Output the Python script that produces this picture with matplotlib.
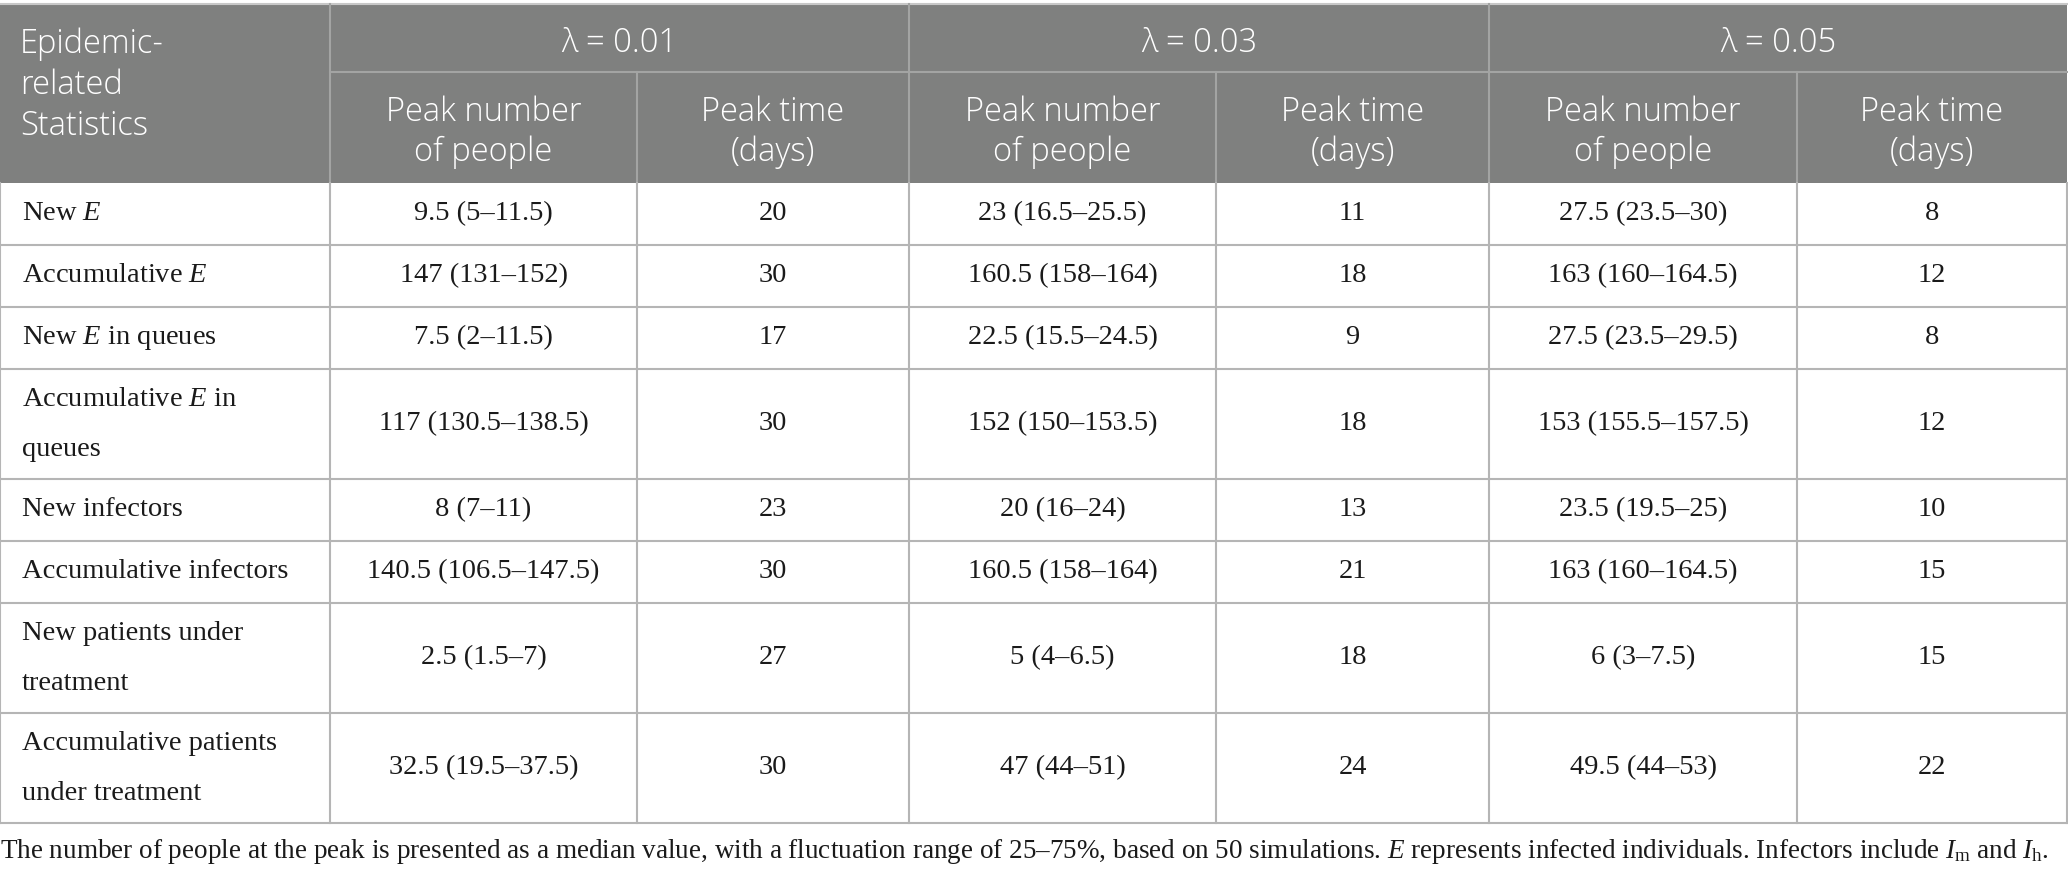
import matplotlib
matplotlib.use('Agg')
import matplotlib.pyplot as plt
from matplotlib.patches import Rectangle

plt.rcParams['mathtext.fontset'] = 'custom'
plt.rcParams['mathtext.rm'] = 'Liberation Serif'
plt.rcParams['mathtext.it'] = 'Liberation Serif:italic'

# table content
row_labels = ["New $E$", "Accumulative $E$", "New $E$ in queues",
              "Accumulative $E$ in\nqueues", "New infectors",
              "Accumulative infectors", "New patients under\ntreatment",
              "Accumulative patients\nunder treatment"]
lambdas = ["λ = 0.01", "λ = 0.03", "λ = 0.05"]
sub_heads = ["Peak number\nof people", "Peak time\n(days)"]

peak_001 = ["9.5 (5–11.5)", "147 (131–152)", "7.5 (2–11.5)", "117 (130.5–138.5)",
            "8 (7–11)", "140.5 (106.5–147.5)", "2.5 (1.5–7)", "32.5 (19.5–37.5)"]
time_001 = [20, 30, 17, 30, 23, 30, 27, 30]
peak_003 = ["23 (16.5–25.5)", "160.5 (158–164)", "22.5 (15.5–24.5)", "152 (150–153.5)",
            "20 (16–24)", "160.5 (158–164)", "5 (4–6.5)", "47 (44–51)"]
time_003 = [11, 18, 9, 18, 13, 21, 18, 24]
peak_005 = ["27.5 (23.5–30)", "163 (160–164.5)", "27.5 (23.5–29.5)", "153 (155.5–157.5)",
            "23.5 (19.5–25)", "163 (160–164.5)", "6 (3–7.5)", "49.5 (44–53)"]
time_005 = [8, 12, 8, 12, 10, 15, 15, 22]

footnote = ("The number of people at the peak is presented as a median value, with a "
            "fluctuation range of 25–75%, based on 50 simulations. $E$ represents infected "
            "individuals. Infectors include $I_\\mathrm{m}$ and $I_\\mathrm{h}$.")

columns = [row_labels, peak_001, time_001, peak_003, time_003, peak_005, time_005]

# layout (pixels)
W, H = 2068, 876
col_edges = [0, 330, 637, 909, 1216, 1489, 1797, 2067]
top, mid, head_bot = 4, 72, 183
single_h, double_h = 62, 110
head_color = '#7f807f'
head_line = '#a3a4a3'
body_line = '#b5b5b5'
sans = 'Open Sans'
serif = 'Liberation Serif'

fig = plt.figure(figsize=(W / 100, H / 100), dpi=100)
ax = fig.add_axes([0, 0, 1, 1])
ax.set_xlim(0, W)
ax.set_ylim(H, 0)
ax.set_axis_off()

# header background
ax.add_patch(Rectangle((0, top), col_edges[-1], head_bot - top, color=head_color, lw=0))
ax.plot([0, col_edges[-1]], [top, top], color='#c8c8c8', lw=1.5)
ax.plot([col_edges[1], col_edges[-1]], [mid, mid], color=head_line, lw=1.5)
for i, x in enumerate(col_edges[1:-1], start=1):
    y0 = top if i % 2 == 1 else mid
    ax.plot([x, x], [y0, head_bot], color=head_line, lw=1.5)

hk = dict(color='white', fontsize=23.5, family=sans, fontweight='light')
for j, lab in enumerate(["Epidemic-", "related", "Statistics"]):
    ax.text(20, 44 + 41 * j, lab, ha='left', va='center', **hk)
for g, lam in enumerate(lambdas):
    xa, xb = col_edges[1 + 2 * g], col_edges[3 + 2 * g]
    ax.text((xa + xb) / 2, (top + mid) / 2 + 5, lam, ha='center', va='center', **hk)
    for k, sh in enumerate(sub_heads):
        xc = (col_edges[1 + 2 * g + k] + col_edges[2 + 2 * g + k]) / 2
        for j, line in enumerate(sh.split('\n')):
            ax.text(xc, 112 + 40 * j, line, ha='center', va='center', **hk)

# body
y = head_bot
for r, lab in enumerate(row_labels):
    h = double_h if '\n' in lab else single_h
    yc = y + h / 2
    for c, col in enumerate(columns):
        txt = str(col[r])
        lines = txt.split('\n')
        if c == 0:
            off = [0] if len(lines) == 1 else [-24, 26]
            for line, o in zip(lines, off):
                ax.text(22, yc + o, line, ha='left', va='center',
                        fontsize=20.5, family=serif, color='#1a1a1a')
        else:
            xc = (col_edges[c] + col_edges[c + 1]) / 2
            ax.text(xc, yc, txt, ha='center', va='center',
                    fontsize=20.5, family=serif, color='#1a1a1a')
    y += h
    ax.plot([0, col_edges[-1]], [y, y], color=body_line, lw=1.5)
bottom = y
for x in col_edges:
    ax.plot([x, x], [head_bot, bottom], color=body_line, lw=1.5)

ax.text(0, 851, footnote, ha='left', va='center', fontsize=19.5, family=serif,
        color='#1a1a1a')

fig.savefig('out.png', dpi=100, facecolor='white')
